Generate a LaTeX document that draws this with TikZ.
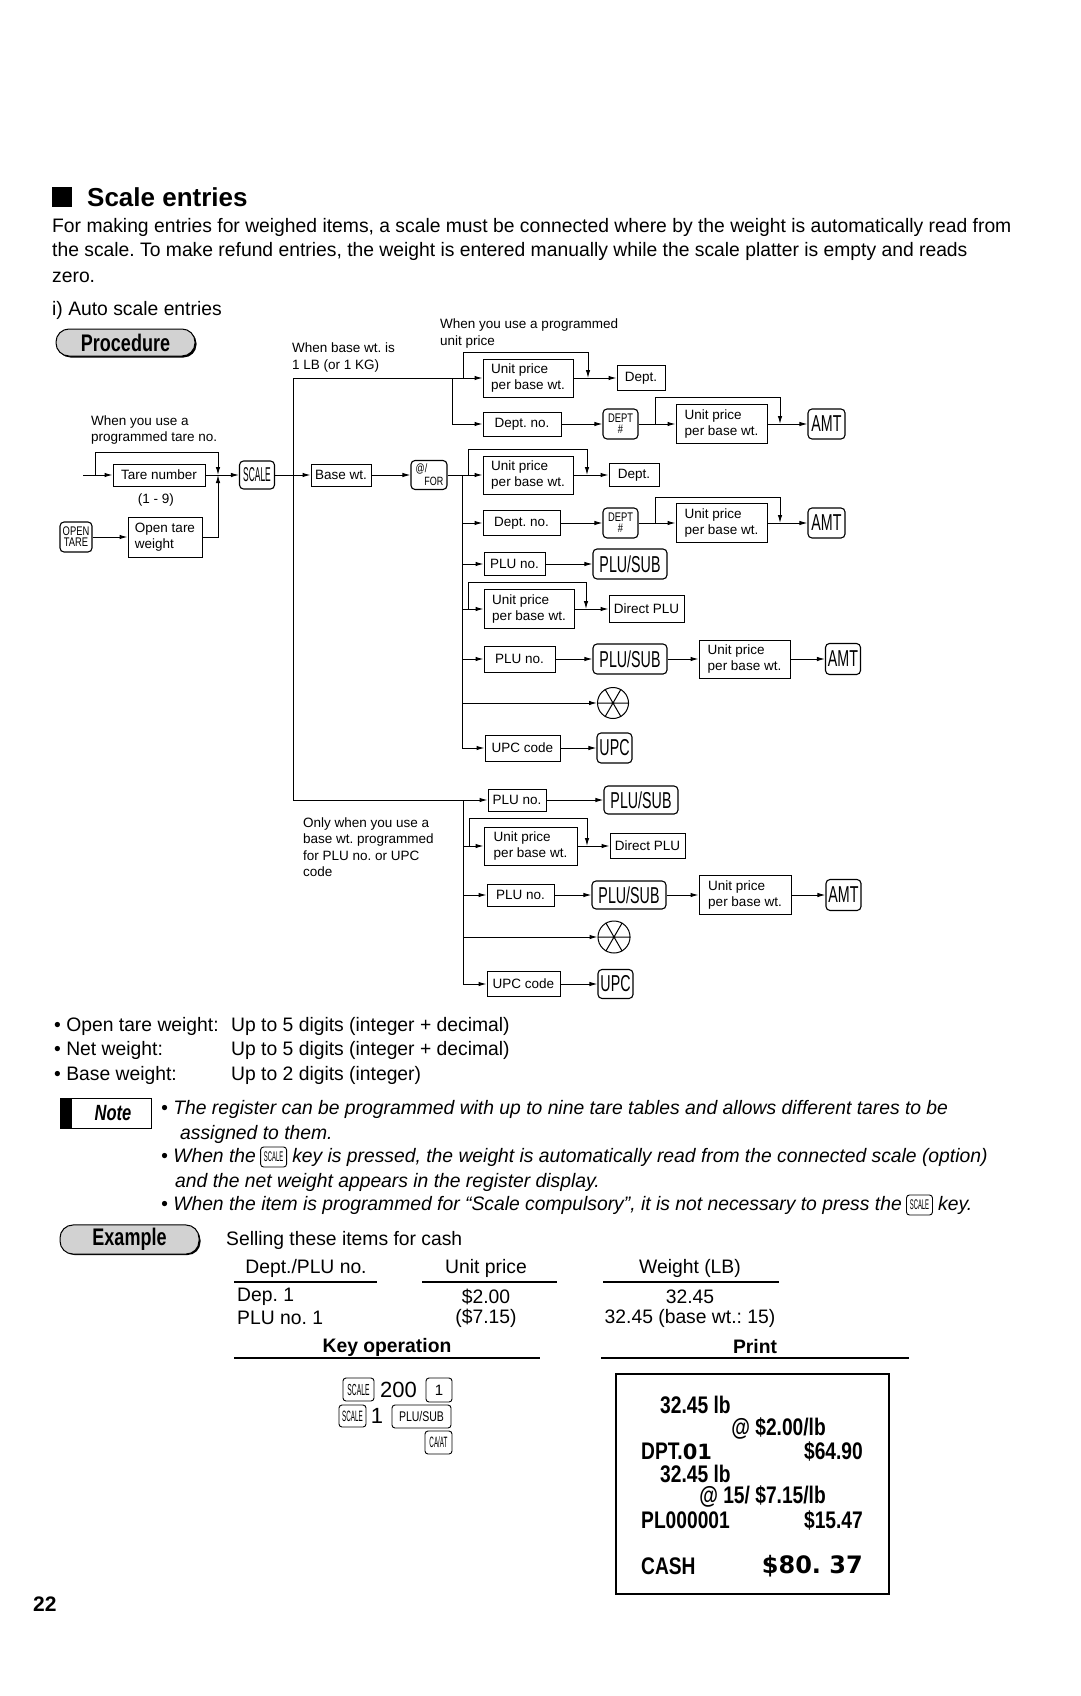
\documentclass[tikz,border=0pt]{standalone}
\usepackage{fontspec}
\setmainfont{Liberation Sans}
\newfontfamily\bodyf[FakeStretch=0.99]{Liberation Sans}
\newfontfamily\condf[FakeStretch=0.75]{Liberation Sans}
\newfontfamily\keyf[FakeStretch=0.62]{Liberation Sans}
\newfontfamily\sckf[FakeStretch=0.42]{Liberation Sans}
\newfontfamily\rcf[FakeStretch=0.8]{Liberation Sans}
\newfontfamily\wideb{DejaVu Sans}
\usetikzlibrary{arrows.meta,calc}
\frenchspacing
\newcommand\dfont{\fontsize{13.5}{16.5}\selectfont}
\newcommand\bfnt{\bodyf\fontsize{19.5}{25}\selectfont}
\newcommand\rfnt{\rcf\bfseries\fontsize{24}{24}\selectfont}
\begin{document}
\begin{tikzpicture}[x=1pt,y=-1pt,
  bx/.style={draw,line width=1pt,inner sep=0pt,align=left,font=\dfont},
  ky/.style={draw,line width=1.1pt,rounded corners=4pt,inner sep=0pt,align=center},
  bigkey/.style={ky,font=\keyf\fontsize{23}{23}\selectfont},
  twokey/.style={ky,font=\condf\fontsize{12.5}{11}\selectfont},
  sky/.style={draw,line width=0.9pt,rounded corners=3pt,inner sep=0pt,align=center},
  ln/.style={line width=1pt},
  ar/.style={line width=1pt,-{Latex[length=8pt,width=4.5pt]}},
  lbl/.style={inner sep=0pt,anchor=west,align=left,font=\dfont},
  bt/.style={inner sep=0pt,anchor=west,font=\bfnt},
  nt/.style={inner sep=0pt,anchor=west,font=\bodyf\itshape\fontsize{19.5}{25}\selectfont,text height=14pt,text depth=4pt},
  badge/.style={draw,line width=1pt,fill=gray!35,rounded corners=13pt,font=\condf\bfseries\fontsize{24}{24}\selectfont},
  spoke/.style={line width=1pt},
  rt/.style={inner sep=0pt,font=\rfnt}
]
\useasboundingbox (0,0) rectangle (1080,1696);

% ---------------- header ----------------
\node[fill=black,minimum size=20pt,inner sep=0pt] (sq) at (62,197) {};
\node[anchor=west,inner sep=0pt,font=\bfseries\fontsize{26}{30}\selectfont] (title) at (87,197) {Scale entries};
\node[bt] (l1) at (52,227) {For making entries for weighed items, a scale must be connected where by the weight is automatically read from};
\node[bt] (l2) at (52,251) {the scale. To make refund entries, the weight is entered manually while the scale platter is empty and reads};
\node[bt] (l3) at (52,277) {zero.};
\node[bt] (l4) at (52,310) {i) Auto scale entries};

\node[fill=black,rounded corners=13pt,minimum width=139pt,minimum height=27pt] (procsh) at (127,344) {};
\node[badge,minimum width=139pt,minimum height=27pt] (proc) at (125.5,342.5) {Procedure};

% ---------------- labels ----------------
\node[lbl] (lab1) at (91,430) {When you use a\\programmed tare no.};
\node[lbl] (lab2) at (292,357.5) {When base wt. is\\1 LB (or 1 KG)};
\node[lbl] (lab3) at (440,333.5) {When you use a programmed\\unit price};
\node[lbl] (lab4) at (303,847) {Only when you use a\\base wt. programmed\\for PLU no. or UPC\\code};
\node[inner sep=0pt,font=\dfont] (lab5) at (156,500) {(1 - 9)};

% ---------------- left part ----------------
\node[bx,minimum width=92pt,minimum height=22pt] (tare) at (159,475) {Tare number};
\node[bx,minimum width=74pt,minimum height=40pt] (opent) at (165,537) {Open tare\\weight};
\node[twokey,minimum width=32pt,minimum height=30pt] (okey) at (76,537) {OPEN\\TARE};
\node[ky,minimum width=35pt,minimum height=28pt,font=\sckf\fontsize{20}{20}\selectfont] (scalek) at (257,475) {SCALE};
\node[bx,minimum width=60pt,minimum height=22pt] (base) at (341,475) {Base wt.};
\node[ky,minimum width=36pt,minimum height=29pt] (atfor) at (429,475) {};
\node[inner sep=0pt,anchor=north west,font=\condf\fontsize{12}{12}\selectfont] (atl) at ($(atfor.north west)+(5,4)$) {@/};
\node[inner sep=0pt,anchor=south east,font=\condf\fontsize{12}{12}\selectfont] (atr) at ($(atfor.south east)+(-4,-4)$) {FOR};

\coordinate (entry) at (83,475);
\coordinate (bpL) at (95,475);
\coordinate (mrg) at (218,475);
\draw[ar] (entry) -- (tare.west);
\draw[ar] (bpL) -- ++(0,-23) -| (mrg);
\draw[ar] (opent.east) -| (mrg);
\draw[ar] (okey.east) -- (opent.west);
\draw[ar] (tare.east) -- (scalek.west);
\draw[ar] (scalek.east) -- (base.west);
\draw[ar] (base.east) -- (atfor.west);

% main vertical X1
\coordinate (j1top) at (293,378);
\coordinate (j1bot) at (293,800);
\draw[ln] (j1top) -- (j1bot);

% ---------------- 1 LB group ----------------
\node[bx,minimum width=90pt,minimum height=38pt] (up1) at (528,378) {Unit price\\per base wt.};
\node[bx,minimum width=48pt,minimum height=25pt] (dept1) at (641,378) {Dept.};
\node[bx,minimum width=78pt,minimum height=24pt] (dno1) at (522,424) {Dept. no.};
\node[twokey,minimum width=35pt,minimum height=30pt] (dk1) at (620.5,424) {DEPT\\\#};
\node[bx,minimum width=91pt,minimum height=39pt] (up2) at (721.5,424) {Unit price\\per base wt.};
\node[bigkey,minimum width=37pt,minimum height=30pt] (amt1) at (826.5,424) {AMT};

\coordinate (jA) at (452,378);
\coordinate (bA1) at (463,378);
\coordinate (bA2) at (588,378);
\coordinate (bB1) at (655,424);
\coordinate (bB2) at (780,424);
\draw[ar] (j1top) -- (up1.west);
\draw[ar] (jA) |- (dno1.west);
\draw[ar] (bA1) -- ++(0,-26) -| (bA2);
\draw[ar] (up1.east) -- (dept1.west);
\draw[ar] (dno1.east) -- (dk1.west);
\draw[ar] (dk1.east) -- (up2.west);
\draw[ar] (bB1) -- ++(0,-27) -| (bB2);
\draw[ar] (up2.east) -- (amt1.west);

% ---------------- @/FOR group ----------------
\node[bx,minimum width=90pt,minimum height=38pt] (up3) at (528,475) {Unit price\\per base wt.};
\node[bx,minimum width=50pt,minimum height=23pt] (dept2) at (634,475) {Dept.};
\node[bx,minimum width=77pt,minimum height=25pt] (dno2) at (521.5,523) {Dept. no.};
\node[twokey,minimum width=35pt,minimum height=30pt] (dk2) at (620.5,523) {DEPT\\\#};
\node[bx,minimum width=91pt,minimum height=39pt] (up4) at (721.5,523) {Unit price\\per base wt.};
\node[bigkey,minimum width=37pt,minimum height=30pt] (amt2) at (826.5,523) {AMT};
\node[bx,minimum width=61pt,minimum height=23pt] (plu1) at (514.5,564) {PLU no.};
\node[bigkey,minimum width=74pt,minimum height=30pt] (ps1) at (630,564) {PLU/SUB};
\node[bx,minimum width=90pt,minimum height=39pt] (up5) at (529,609) {Unit price\\per base wt.};
\node[bx,minimum width=75pt,minimum height=27pt] (dplu1) at (646.5,609) {Direct PLU};
\node[bx,minimum width=71pt,minimum height=26pt] (plu2) at (519.5,659) {PLU no.};
\node[bigkey,minimum width=74pt,minimum height=30pt] (ps2) at (630,659) {PLU/SUB};
\node[bx,minimum width=91pt,minimum height=38pt] (up6) at (744.5,659) {Unit price\\per base wt.};
\node[bigkey,minimum width=35pt,minimum height=31pt] (amt3) at (843,659) {AMT};
\node[draw,circle,line width=1pt,minimum size=31pt,inner sep=0pt] (circ1) at (613,703) {};
\draw[spoke] (circ1.west) -- (circ1.east) (circ1.60) -- (circ1.240) (circ1.120) -- (circ1.300);
\node[bx,minimum width=75pt,minimum height=26pt] (upc1) at (522.5,748) {UPC code};
\node[bigkey,minimum width=35pt,minimum height=30pt] (upck1) at (614.5,748) {UPC};

\coordinate (X2top) at (462,475);
\coordinate (X2b) at (462,523);
\coordinate (X2c) at (462,564);
\coordinate (X2d) at (462,609);
\coordinate (X2e) at (462,659);
\coordinate (X2f) at (462,703);
\coordinate (ba1) at (468,475);
\coordinate (ba2) at (587,475);
\coordinate (bb1) at (655,523);
\coordinate (bb2) at (780,523);
\coordinate (bd1) at (468,609);
\coordinate (bd2) at (586,609);
\draw[ar] (atfor.east) -- (up3.west);
\draw[ar] (X2top) |- (upc1.west);
\draw[ar] (ba1) -- ++(0,-26) -| (ba2);
\draw[ar] (up3.east) -- (dept2.west);
\draw[ar] (X2b) -- (dno2.west);
\draw[ar] (dno2.east) -- (dk2.west);
\draw[ar] (dk2.east) -- (up4.west);
\draw[ar] (bb1) -- ++(0,-26) -| (bb2);
\draw[ar] (up4.east) -- (amt2.west);
\draw[ar] (X2c) -- (plu1.west);
\draw[ar] (plu1.east) -- (ps1.west);
\draw[ar] (X2d) -- (up5.west);
\draw[ar] (bd1) -- ++(0,-27) -| (bd2);
\draw[ar] (up5.east) -- (dplu1.west);
\draw[ar] (X2e) -- (plu2.west);
\draw[ar] (plu2.east) -- (ps2.west);
\draw[ar] (ps2.east) -- (up6.west);
\draw[ar] (up6.east) -- (amt3.west);
\draw[ar] (X2f) -- (circ1.west);
\draw[ar] (upc1.east) -- (upck1.west);

% ---------------- lower group ----------------
\node[bx,minimum width=58pt,minimum height=22pt] (plu3) at (517,800) {PLU no.};
\node[bigkey,minimum width=74pt,minimum height=28pt] (ps3) at (641,800) {PLU/SUB};
\node[bx,minimum width=93pt,minimum height=38pt] (up7) at (530.5,846) {Unit price\\per base wt.};
\node[bx,minimum width=75pt,minimum height=25pt] (dplu2) at (647.5,846) {Direct PLU};
\node[bx,minimum width=67pt,minimum height=22pt] (plu4) at (520.5,895) {PLU no.};
\node[bigkey,minimum width=74pt,minimum height=28pt] (ps4) at (629,895) {PLU/SUB};
\node[bx,minimum width=92pt,minimum height=39pt] (up8) at (745,895) {Unit price\\per base wt.};
\node[bigkey,minimum width=35pt,minimum height=31pt] (amt4) at (843.5,895) {AMT};
\node[draw,circle,line width=1pt,minimum size=32pt,inner sep=0pt] (circ2) at (614,937) {};
\draw[spoke] (circ2.west) -- (circ2.east) (circ2.60) -- (circ2.240) (circ2.120) -- (circ2.300);
\node[bx,minimum width=73pt,minimum height=25pt] (upc2) at (523.5,984) {UPC code};
\node[bigkey,minimum width=35pt,minimum height=29pt] (upck2) at (615.5,984) {UPC};

\coordinate (Y2top) at (463,800);
\coordinate (Y2d) at (463,846);
\coordinate (Y2e) at (463,895);
\coordinate (Y2f) at (463,937);
\coordinate (bd3) at (469,846);
\coordinate (bd4) at (587,846);
\draw[ar] (j1bot) -- (plu3.west);
\draw[ar] (Y2top) |- (upc2.west);
\draw[ar] (plu3.east) -- (ps3.west);
\draw[ar] (Y2d) -- (up7.west);
\draw[ar] (bd3) -- ++(0,-28) -| (bd4);
\draw[ar] (up7.east) -- (dplu2.west);
\draw[ar] (Y2e) -- (plu4.west);
\draw[ar] (plu4.east) -- (ps4.west);
\draw[ar] (ps4.east) -- (up8.west);
\draw[ar] (up8.east) -- (amt4.west);
\draw[ar] (Y2f) -- (circ2.west);
\draw[ar] (upc2.east) -- (upck2.west);

% ---------------- specs ----------------
\node[bt] (s1a) at (54,1026) {\textbullet\ Open tare weight:};
\node[bt] (s1b) at (231,1026) {Up to 5 digits (integer + decimal)};
\node[bt] (s2a) at (54,1050) {\textbullet\ Net weight:};
\node[bt] (s2b) at (231,1050) {Up to 5 digits (integer + decimal)};
\node[bt] (s3a) at (54,1075) {\textbullet\ Base weight:};
\node[bt] (s3b) at (231,1075) {Up to 2 digits (integer)};

% ---------------- note ----------------
\node[draw,line width=1pt,minimum width=91pt,minimum height=30pt] (notebox) at (105.5,1113) {};
\node[fill=black,minimum width=12pt,minimum height=30pt,inner sep=0pt,anchor=west] (notebar) at (notebox.west) {};
\node[inner sep=0pt,font=\condf\bfseries\itshape\fontsize{22}{22}\selectfont] (notet) at (113,1113) {Note};
\node[nt] (n1) at (161,1109) {\textbullet\ The register can be programmed with up to nine tare tables and allows different tares to be};
\node[nt] (n2) at (180,1134) {assigned to them.};
\node[nt] (n3a) at (161,1157) {\textbullet\ When the};
\node[sky,minimum width=26pt,minimum height=20pt,font=\sckf\fontsize{14}{14}\selectfont,anchor=west] (nk1) at ($(n3a.east)+(4,0)$) {SCALE};
\node[nt] (n3b) at ($(nk1.east)+(5,0)$) {key is pressed, the weight is automatically read from the connected scale (option)};
\node[nt] (n4) at (175,1182) {and the net weight appears in the register display.};
\node[nt] (n5a) at (161,1205) {\textbullet\ When the item is programmed for \textquotedblleft Scale compulsory\textquotedblright, it is not necessary to press the};
\node[sky,minimum width=26pt,minimum height=20pt,font=\sckf\fontsize{14}{14}\selectfont,anchor=west] (nk2) at ($(n5a.east)+(4,0)$) {SCALE};
\node[nt] (n5b) at ($(nk2.east)+(5,0)$) {key.};

% ---------------- example ----------------
\node[fill=black,rounded corners=13pt,minimum width=139pt,minimum height=28pt] (exsh) at (131,1241) {};
\node[badge,minimum width=139pt,minimum height=28pt] (ex) at (129.5,1239.5) {Example};
\node[bt] (sell) at (226,1240) {Selling these items for cash};
\node[inner sep=0pt,font=\bfnt] (h1) at (306,1268) {Dept./PLU no.};
\node[inner sep=0pt,font=\bfnt] (h2) at (486,1268) {Unit price};
\node[inner sep=0pt,font=\bfnt] (h3) at (690,1268) {Weight (LB)};
\draw[line width=1.2pt] (234,1282) -- (377,1282);
\draw[line width=1.2pt] (422,1282) -- (557,1282);
\draw[line width=1.2pt] (603,1282) -- (779,1282);
\node[bt] (r1a) at (237,1297) {Dep. 1};
\node[bt] (r2a) at (237,1318) {PLU no. 1};
\node[inner sep=0pt,font=\bfnt] (r1b) at (486,1297) {\$2.00};
\node[inner sep=0pt,font=\bfnt] (r2b) at (486,1318) {(\$7.15)};
\node[inner sep=0pt,font=\bfnt] (r1c) at (690,1297) {32.45};
\node[inner sep=0pt,font=\bfnt] (r2c) at (690,1318) {32.45 (base wt.: 15)};
\node[inner sep=0pt,font=\bfnt\bfseries] (kop) at (387,1347) {Key operation};
\node[inner sep=0pt,font=\bfnt\bfseries] (prt) at (755,1347) {Print};
\draw[line width=1.2pt] (234,1358) -- (540,1358);
\draw[line width=1.2pt] (601,1358) -- (909,1358);

% key operation
\node[sky,minimum width=31pt,minimum height=23pt,font=\sckf\fontsize{16}{16}\selectfont] (ks1) at (358.5,1389.5) {SCALE};
\node[anchor=west,inner sep=0pt,font=\fontsize{22}{22}\selectfont] (t200) at (380,1390) {200};
\node[sky,minimum width=26pt,minimum height=24pt,font=\fontsize{15}{15}\selectfont] (k1) at (439,1390) {1};
\node[sky,minimum width=27pt,minimum height=22pt,font=\sckf\fontsize{15}{15}\selectfont] (ks2) at (352.5,1416) {SCALE};
\node[inner sep=0pt,font=\fontsize{22}{22}\selectfont] (t1) at (377,1416) {1};
\node[sky,minimum width=59pt,minimum height=23pt,font=\condf\fontsize{14}{14}\selectfont] (kps) at (421.5,1416.5) {PLU/SUB};
\node[sky,minimum width=27pt,minimum height=23pt,font=\sckf\fontsize{15}{15}\selectfont] (kca) at (438.5,1442.5) {CA/AT};

% receipt
\node[draw,line width=1.2pt,minimum width=273pt,minimum height=220pt] (rcpt) at (752.5,1484) {};
\node[rt,anchor=west] (p1) at (660,1405) {32.45 lb};
\node[rt,anchor=east] (p2) at (826,1428) {@ \$2.00/lb};
\node[rt,anchor=west] (p3) at (641,1451) {DPT.{\wideb\bfseries\fontsize{21}{21}\selectfont 01}};
\node[rt,anchor=east] (p3b) at (863,1451) {\$64.90};
\node[rt,anchor=west] (p4) at (660,1474) {32.45 lb};
\node[rt,anchor=east] (p5) at (826,1496) {@ 15/ \$7.15/lb};
\node[rt,anchor=west] (p6) at (641,1520) {PL000001};
\node[rt,anchor=east] (p6b) at (863,1520) {\$15.47};
\node[rt,anchor=west] (p7) at (641,1566) {CASH};
\node[inner sep=0pt,anchor=east,font=\wideb\bfseries\fontsize{24}{24}\selectfont] (p7b) at (863,1566) {\$80. 37};

\node[anchor=west,inner sep=0pt,font=\bfseries\fontsize{21}{21}\selectfont] (pg) at (33,1604) {22};
\end{tikzpicture}
\end{document}
